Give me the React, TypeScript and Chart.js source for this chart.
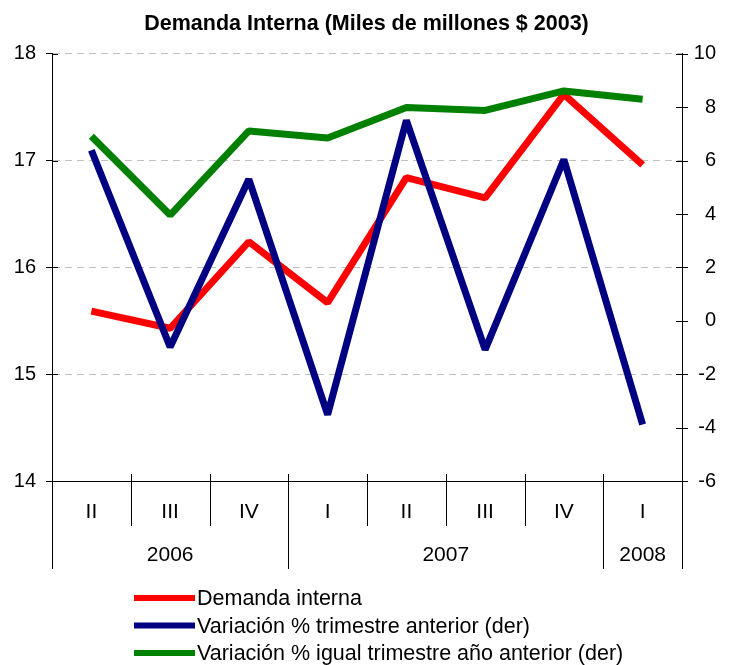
import React, { useEffect, useRef } from "react";
import { Chart, registerables } from "chart.js";

Chart.register(...registerables);

const FONT = "'Liberation Sans', Arial, Helvetica, sans-serif";

const titleText = "Demanda Interna (Miles de millones $ 2003)";
const quarters = ["II", "III", "IV", "I", "II", "III", "IV", "I"];
const years = ["2006", "2007", "2008"];
const yearSpans = [3, 4, 1];

const demandaInterna = [15.59, 15.43, 16.24, 15.67, 16.84, 16.65, 17.62, 16.96];
const varTrimAnterior = [6.39, -0.98, 5.3, -3.51, 7.51, -1.08, 6.04, -3.88];
const varIgualTrim = [6.91, 3.96, 7.11, 6.85, 7.99, 7.88, 8.61, 8.3];

const seriesLabels = [
  "Demanda interna",
  "Variación % trimestre anterior (der)",
  "Variación % igual trimestre año anterior (der)",
];
const seriesColors = ["#FF0000", "#000080", "#008000"];

const leftMin = 14;
const leftMax = 18;
const leftStep = 1;
const rightMin = -6;
const rightMax = 10;
const rightStep = 2;

const decorPlugin = {
  id: "decor",
  afterDraw(chart: any) {
    const { ctx, chartArea } = chart;
    const x = chart.scales.x;
    const yl = chart.scales.y;
    const yr = chart.scales.y1;
    const n = quarters.length;
    const step = x.getPixelForValue(1) - x.getPixelForValue(0);
    const bound = (i: number) => x.getPixelForValue(i) - step / 2;
    const y0 = chartArea.bottom;
    const sp = (v: number) => Math.round(v) + 0.5;

    ctx.save();
    ctx.strokeStyle = "#000";
    ctx.lineWidth = 1;

    // category axis line
    ctx.beginPath();
    ctx.moveTo(chartArea.left, sp(y0));
    ctx.lineTo(chartArea.right, sp(y0));
    ctx.stroke();

    // separators
    const longSet = new Set<number>([0]);
    let acc = 0;
    yearSpans.forEach((s) => {
      acc += s;
      longSet.add(acc);
    });
    for (let i = 0; i <= n; i++) {
      const xx = sp(bound(i));
      ctx.beginPath();
      ctx.moveTo(xx, y0 - 7);
      ctx.lineTo(xx, longSet.has(i) ? y0 + 88 : y0 + 45);
      ctx.stroke();
    }

    // inward ticks on value axes
    yl.ticks.forEach((t: any) => {
      const yy = sp(yl.getPixelForValue(t.value));
      ctx.beginPath();
      ctx.moveTo(chartArea.left, yy);
      ctx.lineTo(chartArea.left + 6, yy);
      ctx.stroke();
    });
    yr.ticks.forEach((t: any) => {
      const yy = sp(yr.getPixelForValue(t.value));
      ctx.beginPath();
      ctx.moveTo(chartArea.right - 6, yy);
      ctx.lineTo(chartArea.right + 6, yy);
      ctx.stroke();
    });

    ctx.fillStyle = "#000";
    ctx.textBaseline = "middle";

    // right axis labels (right-aligned)
    ctx.textAlign = "right";
    ctx.font = `20px ${FONT}`;
    yr.ticks.forEach((t: any) => {
      ctx.fillText(String(t.value), chartArea.right + 34, yr.getPixelForValue(t.value));
    });

    // category labels
    ctx.textAlign = "center";
    ctx.font = `21px ${FONT}`;
    quarters.forEach((q, i) => {
      ctx.fillText(q, x.getPixelForValue(i), y0 + 31);
    });
    let start = 0;
    years.forEach((yv, k) => {
      const end = start + yearSpans[k];
      const cx = (bound(start) + bound(end)) / 2;
      ctx.fillText(yv, cx, y0 + 74);
      start = end;
    });

    // legend
    ctx.textAlign = "left";
    ctx.font = `21.5px ${FONT}`;
    chart.data.datasets.forEach((ds: any, i: number) => {
      const ly = y0 + 117 + i * 27.5;
      ctx.strokeStyle = ds.borderColor;
      ctx.lineWidth = 6;
      ctx.beginPath();
      ctx.moveTo(134, ly);
      ctx.lineTo(195, ly);
      ctx.stroke();
      ctx.fillStyle = "#000";
      ctx.fillText(ds.label, 197, ly + 1.5);
    });
    ctx.restore();
  },
};

export default function App() {
  const ref = useRef<HTMLCanvasElement>(null);

  useEffect(() => {
    if (!ref.current) return;
    const chart = new Chart(ref.current, {
      type: "line",
      data: {
        labels: quarters,
        datasets: [
          {
            label: seriesLabels[0],
            data: demandaInterna,
            yAxisID: "y",
            borderColor: seriesColors[0],
            backgroundColor: seriesColors[0],
            borderWidth: 7,
            pointRadius: 0,
            borderJoinStyle: "bevel",
            order: 2,
          },
          {
            label: seriesLabels[1],
            data: varTrimAnterior,
            yAxisID: "y1",
            borderColor: seriesColors[1],
            backgroundColor: seriesColors[1],
            borderWidth: 7,
            pointRadius: 0,
            borderJoinStyle: "bevel",
            order: 1,
          },
          {
            label: seriesLabels[2],
            data: varIgualTrim,
            yAxisID: "y1",
            borderColor: seriesColors[2],
            backgroundColor: seriesColors[2],
            borderWidth: 7,
            pointRadius: 0,
            borderJoinStyle: "bevel",
            order: 0,
          },
        ],
      },
      options: {
        responsive: false,
        animation: false,
        layout: { padding: { left: 0, right: 0, top: 0, bottom: 184 } },
        plugins: {
          legend: { display: false },
          tooltip: { enabled: false },
          title: {
            display: true,
            text: titleText,
            color: "#000",
            font: { family: FONT, size: 21.5, weight: "bold" },
            padding: { top: 11, bottom: 17 },
          },
        },
        scales: {
          x: {
            type: "category",
            display: false,
            offset: true,
          },
          y: {
            position: "left",
            min: leftMin,
            max: leftMax,
            ticks: {
              stepSize: leftStep,
              color: "#000",
              font: { family: FONT, size: 20 },
              padding: 10,
            },
            grid: {
              color: "#c0c0c0",
              lineWidth: 1,
              tickColor: "#000",
              tickLength: 6,
            },
            border: { display: true, color: "#000", width: 1, dash: [7, 5] },
            afterFit: (s: any) => {
              s.width = 52;
            },
          },
          y1: {
            position: "right",
            min: rightMin,
            max: rightMax,
            ticks: {
              stepSize: rightStep,
              display: false,
            },
            grid: {
              drawOnChartArea: false,
              drawTicks: false,
            },
            border: { display: true, color: "#000", width: 1 },
            afterFit: (s: any) => {
              s.width = 51;
            },
          },
        },
      },
      plugins: [decorPlugin],
    } as any);
    return () => chart.destroy();
  }, []);

  return (
    <div style={{ position: "fixed", left: 0, top: 0, width: 733, height: 665, background: "#fff" }}>
      <canvas ref={ref} width={733} height={665} style={{ display: "block" }} />
    </div>
  );
}
